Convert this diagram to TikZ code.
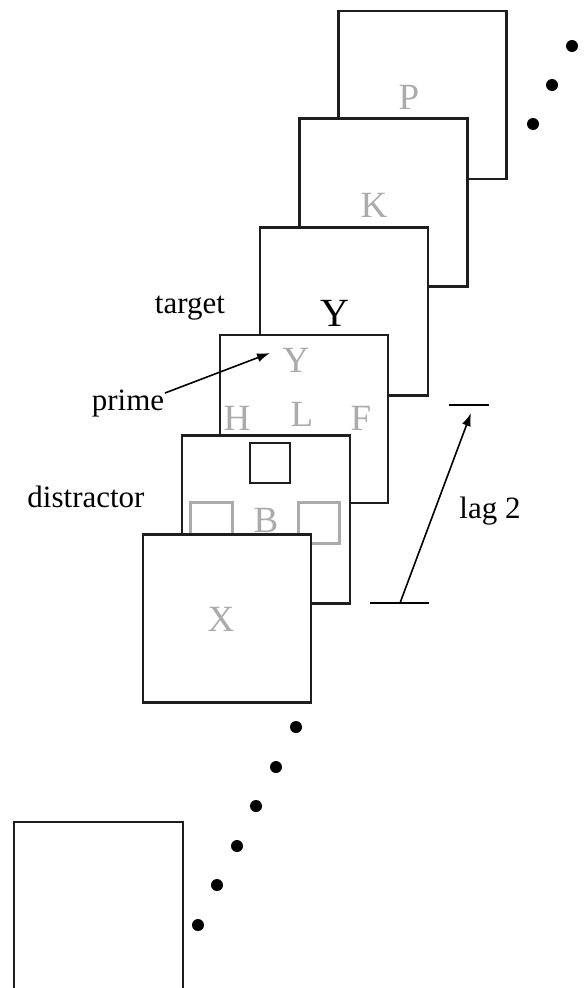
\documentclass[tikz,border=0pt]{standalone}
\usepackage{fontspec}
\setmainfont{Liberation Serif}
\usetikzlibrary{arrows.meta}
\definecolor{framegray}{HTML}{1E1E1E}
\definecolor{lettergray}{HTML}{ABABAB}

\begin{document}
\begin{tikzpicture}[x=1pt, y=-1pt,
  screen/.style={draw=framegray, line width=2.4pt, fill=white, minimum width=168pt, minimum height=168pt, inner sep=0pt},
  letter/.style={text=lettergray, inner sep=0pt, font=\fontsize{37}{44}\selectfont},
  lbl/.style={anchor=base, inner sep=1pt, font=\fontsize{31}{36}\selectfont},
  pointer/.style={line width=1.6pt, -{Latex[length=13pt, width=9pt]}}]
\useasboundingbox (0,0) rectangle (584,988);

% stream of screens, back to front
\node[screen] (sP) at (422.5,95) {};
\node[letter] (lP) at (409,97) {P};
\node[screen] (sK) at (383.5,202.5) {};
\node[letter] (lK) at (374,205) {K};
\node[screen] (sT) at (344,311.5) {};
\node[letter, text=black, font=\fontsize{40}{46}\selectfont] (lT) at (335,313) {Y};
\node[screen] (sR) at (304,419) {};
\node[letter] (lR) at (296,360) {Y};
\node[letter] (lH) at (237,418) {H};
\node[letter] (lL) at (302,414) {L};
\node[letter] (lF) at (361,418) {F};
\node[screen] (sD) at (266,519.5) {};
\draw[framegray, line width=2.8pt] (250,443) rectangle (290,483);
\draw[lettergray, line width=3pt] (190,502) rectangle (232,544);
\draw[lettergray, line width=3pt] (298,502) rectangle (339,543);
\node[letter] (lB) at (266,520) {B};
\node[screen] (sX) at (227,618.5) {};
\node[letter] (lX) at (221,619) {X};
\node[screen, minimum width=169pt] (s0) at (98.5,906) {};

% dots
\foreach \x/\y in {572/46, 552/85, 533/124}
  \fill (\x,\y) circle (6);
\foreach \x/\y in {296/727, 276/767, 256/806, 237/846, 217/885, 198/925}
  \fill (\x,\y) circle (6);

% labels
\node[lbl] (target) at (190,313) {target};
\node[lbl] (prime) at (128,410) {prime};
\node[lbl] (distractor) at (86,507) {distractor};
\node[lbl] (lag) at (490,518) {lag 2};

\coordinate (primefrom) at (165,393);
\coordinate (primeto) at (270,353);
\draw[pointer] (primefrom) -- (primeto);

% lag markers
\draw[line width=1.8pt] (370,603) -- (429,603);
\draw[line width=1.8pt] (449,405) -- (489,405);
\coordinate (lagfrom) at (400,603);
\coordinate (lagto) at (471,413);
\draw[pointer] (lagfrom) -- (lagto);
\end{tikzpicture}
\end{document}
